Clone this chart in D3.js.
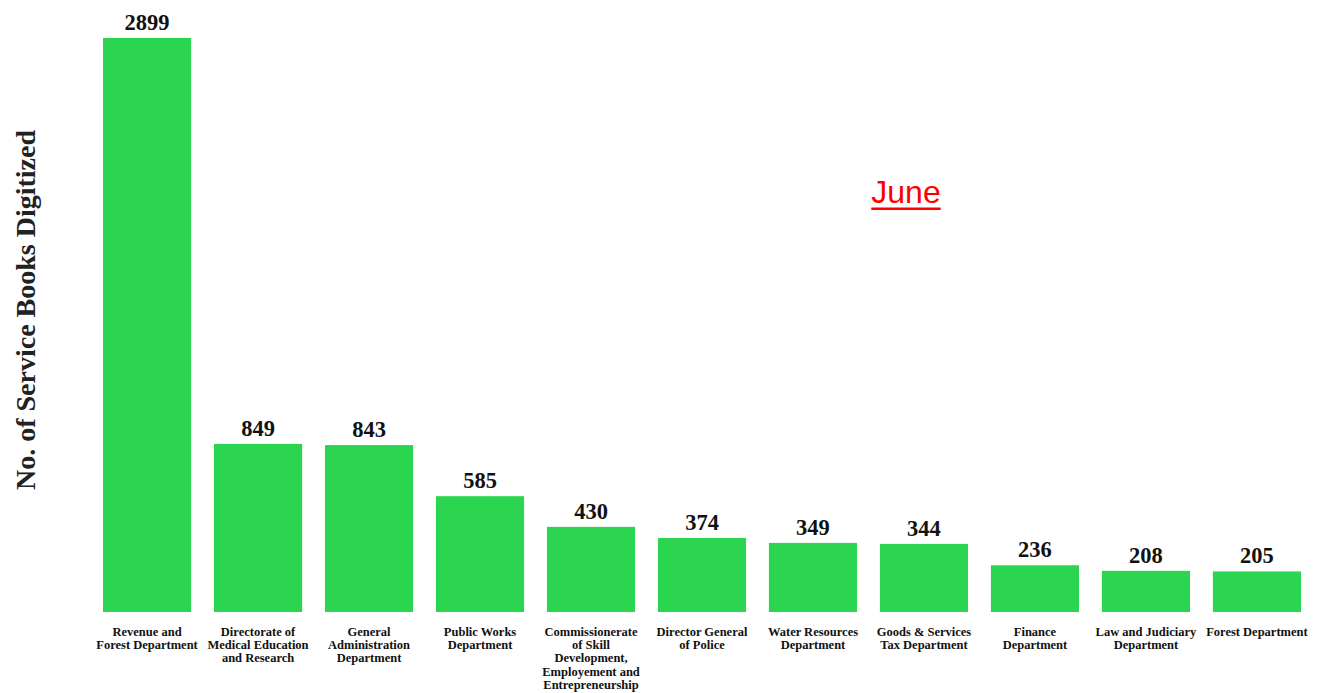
<!DOCTYPE html>
<html>
<head>
<meta charset="utf-8">
<script src="https://cdn.jsdelivr.net/npm/d3@7/dist/d3.min.js"></script>
<style>
  html, body { margin: 0; padding: 0; background: #ffffff; }
  svg { display: block; }
</style>
</head>
<body>
<svg id="chart" width="1325" height="693"></svg>
<script>
// Service books digitized per department
const categories = [
  "Revenue and Forest Department",
  "Directorate of Medical Education and Research",
  "General Administration Department",
  "Public Works Department",
  "Commissionerate of Skill Development, Employement and Entrepreneurship",
  "Director General of Police",
  "Water Resources Department",
  "Goods & Services Tax Department",
  "Finance Department",
  "Law and Judiciary Department",
  "Forest Department"
];
const values = [2899, 849, 843, 585, 430, 374, 349, 344, 236, 208, 205];
// How each category name is broken onto lines under its bar
const labelLines = [
  ["Revenue and", "Forest Department"],
  ["Directorate of", "Medical Education", "and Research"],
  ["General", "Administration", "Department"],
  ["Public Works", "Department"],
  ["Commissionerate", "of Skill", "Development,", "Employement and", "Entrepreneurship"],
  ["Director General", "of Police"],
  ["Water Resources", "Department"],
  ["Goods & Services", "Tax Department"],
  ["Finance", "Department"],
  ["Law and Judiciary", "Department"],
  ["Forest Department"]
];
const yTitle = "No. of Service Books Digitized";
const monthLabel = "June";

const svg = d3.select("#chart");
const serif = "'Liberation Serif', 'Times New Roman', serif";

const x = d3.scaleBand()
  .domain(categories)
  .range([103, 1301])
  .paddingInner(0.206)
  .paddingOuter(0);

const y = d3.scaleLinear()
  .domain([0, 2899])
  .range([612, 38]);

// bars
svg.append("g").selectAll("rect")
  .data(values)
  .join("rect")
  .attr("x", (d, i) => x(categories[i]))
  .attr("y", d => y(d))
  .attr("width", x.bandwidth())
  .attr("height", d => y(0) - y(d))
  .attr("fill", "#2bd54f");

// value labels above bars
svg.append("g").selectAll("text")
  .data(values)
  .join("text")
  .attr("x", (d, i) => x(categories[i]) + x.bandwidth() / 2)
  .attr("y", d => y(d) - 8)
  .attr("text-anchor", "middle")
  .attr("font-family", serif)
  .attr("font-weight", "bold")
  .attr("font-size", 22.5)
  .attr("fill", "#111")
  .text(d => d);

// category labels
const catG = svg.append("g");
categories.forEach((c, i) => {
  const t = catG.append("text")
    .attr("x", x(c) + x.bandwidth() / 2)
    .attr("y", 636)
    .attr("text-anchor", "middle")
    .attr("font-family", serif)
    .attr("font-weight", "bold")
    .attr("font-size", 12.5)
    .attr("fill", "#111");
  labelLines[i].forEach((line, k) => {
    t.append("tspan")
      .attr("x", x(c) + x.bandwidth() / 2)
      .attr("dy", k === 0 ? 0 : 13.2)
      .text(line);
  });
});

// y axis title
svg.append("text")
  .attr("transform", "translate(35,310) rotate(-90)")
  .attr("text-anchor", "middle")
  .attr("font-family", serif)
  .attr("font-weight", "bold")
  .attr("font-size", 28)
  .attr("fill", "#222")
  .text(yTitle);

// month heading, underlined
const month = svg.append("text")
  .attr("x", 906)
  .attr("y", 203)
  .attr("text-anchor", "middle")
  .attr("font-family", "'Liberation Sans', Arial, sans-serif")
  .attr("font-size", 32)
  .attr("fill", "#ff0000")
  .text(monthLabel);
const mw = month.node().getComputedTextLength();
svg.append("rect")
  .attr("x", 906 - mw / 2)
  .attr("y", 207.5)
  .attr("width", mw)
  .attr("height", 2.5)
  .attr("fill", "#ff0000");
</script>
</body>
</html>
